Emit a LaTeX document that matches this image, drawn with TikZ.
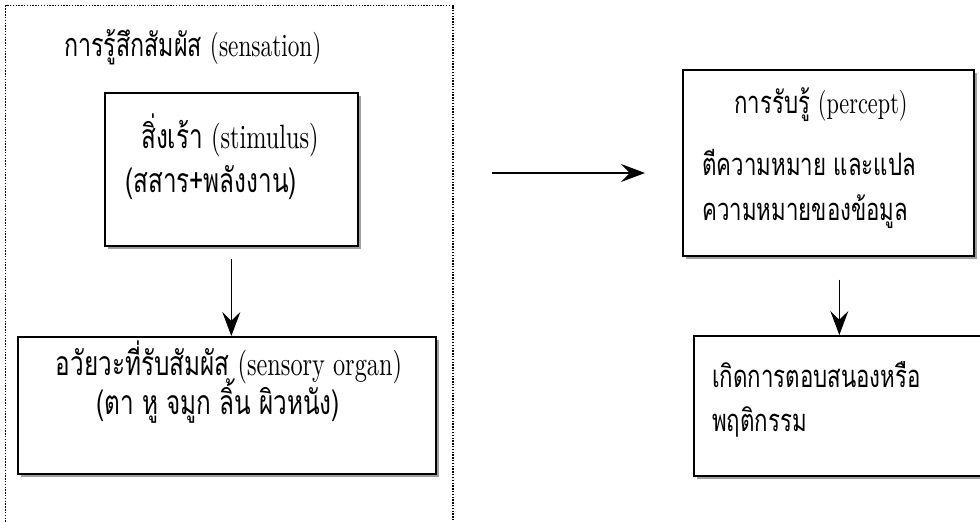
\documentclass[tikz,border=0pt]{standalone}
\usepackage{fontspec}
\setmainfont{lmroman10-regular.otf}[FakeStretch=0.72]
\newfontfamily\thaifont[Script=Thai,FakeStretch=0.72]{Loma}
\newcommand\thai[1]{{\thaifont #1}}
\usetikzlibrary{arrows.meta,shadows}
\begin{document}
\begin{tikzpicture}[x=0.025cm,y=-0.025cm,
  box/.style={draw,line width=1.1pt,fill=white,anchor=north west,inner sep=0pt,
    drop shadow={shadow xshift=2.5pt,shadow yshift=-2.5pt,fill=gray!75,opacity=1}},
  txt/.style={inner sep=0pt,font=\fontsize{22}{26}\selectfont},
  big/.style={inner sep=0pt,font=\fontsize{24}{28}\selectfont},
  arr/.style={line width=0.8pt,-{Stealth[length=0.6cm,width=0.45cm,inset=0.22cm]}}]
\useasboundingbox (0,0) rectangle (980,521);
\clip (0,0) rectangle (980,521);
% sensation frame
\node[draw,densely dotted,line width=1pt,anchor=north west,inner sep=0pt,
      minimum width=11.175cm,minimum height=13.5cm] (frame) at (5,5) {};
\node[txt,font=\fontsize{23}{28}\selectfont,anchor=west] (title) at (64,47) {\thai{การรู้สึกสัมผัส} (sensation)};
% stimulus
\node[box,minimum width=6.325cm,minimum height=3.825cm] (stim) at (104,92) {};
\node[big] (stim1) at (230,135) {\thai{สิ่งเร้า} (stimulus)};
\node[big,anchor=west] (stim2) at (125,183) {\thai{(สสาร+พลังงาน)}};
% sensory organ
\node[box,minimum width=10.45cm,minimum height=3.425cm] (organ) at (17,336) {};
\node[big] (organ1) at (229,362) {\thai{อวัยวะที่รับสัมผัส} (sensory organ)};
\node[big] (organ2) at (218,401) {\thai{(ตา หู จมูก ลิ้น ผิวหนัง)}};
\draw[arr] ([yshift=-0.3cm]stim.south) -- (stim.south |- organ.north);
% percept
\coordinate (hstart) at (492,173);
\coordinate (hend) at (645,173);
\draw[arr] (hstart) -- (hend);
\node[box,minimum width=7.275cm,minimum height=4.65cm] (perc) at (682,69) {};
\node[txt] (perc1) at (821,105) {\thai{การรับรู้} (percept)};
\node[txt,anchor=west] (perc2) at (702,162) {\thai{ตีความหมาย และแปล}};
\node[txt,anchor=west] (perc3) at (702,212) {\thai{ความหมายของข้อมูล}};
% response
\node[box,minimum width=7.925cm,minimum height=3.5cm] (resp) at (693,335) {};
\node[txt,anchor=west] (resp1) at (712,375) {\thai{เกิดการตอบสนองหรือ}};
\node[txt,anchor=west] (resp2) at (712,422) {\thai{พฤติกรรม}};
\draw[arr] ([xshift=0.275cm,yshift=-0.575cm]perc.south) -- ([xshift=0.275cm]perc.south |- resp.north);
\end{tikzpicture}
\end{document}
